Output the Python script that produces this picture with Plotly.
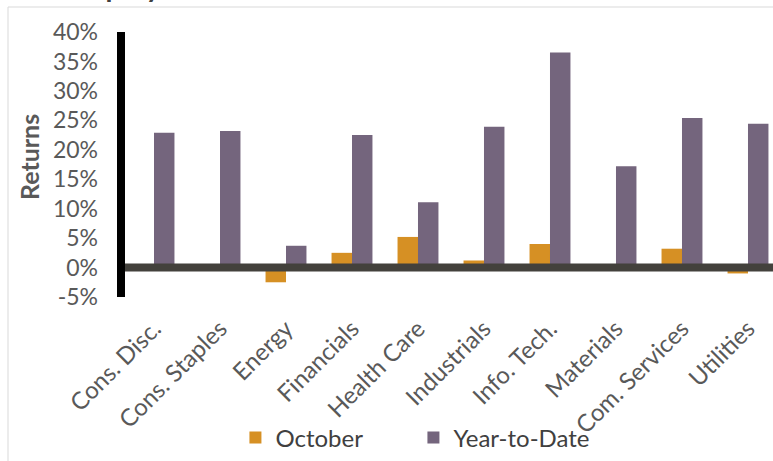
import plotly.graph_objects as go

categories = ["Cons. Disc.", "Cons. Staples", "Energy", "Financials", "Health Care",
              "Industrials", "Info. Tech.", "Materials", "Com. Services", "Utilities"]
october = [0.0, 0.0, -2.5, 2.5, 5.2, 1.2, 4.0, 0.0, 3.2, -1.0]
ytd = [22.9, 23.2, 3.7, 22.5, 11.1, 23.9, 36.5, 17.2, 25.4, 24.4]
tick_vals = [-5, 0, 5, 10, 15, 20, 25, 30, 35, 40]
tick_text = [f"{v}%" for v in tick_vals]

ORANGE = "#D69024"
PURPLE = "#74657D"
FONT = "Lato"

fig = go.Figure()
fig.add_trace(go.Bar(x=categories, y=october, name="October",
                     marker=dict(color=ORANGE, line=dict(width=0))))
fig.add_trace(go.Bar(x=categories, y=ytd, name="Year-to-Date",
                     marker=dict(color=PURPLE, line=dict(width=0))))

fig.update_layout(
    width=773, height=461,
    margin=dict(l=121, r=0, t=32, b=164),
    paper_bgcolor="white", plot_bgcolor="white",
    barmode="group", bargap=0.38, bargroupgap=0,
    font=dict(family=FONT, color="#595959"),
    showlegend=True,
    legend=dict(orientation="h", x=0.1755, y=-0.532, xanchor="left", yanchor="middle",
                font=dict(size=24, color="#404040"), entrywidth=133,
                entrywidthmode="pixels", bgcolor="rgba(0,0,0,0)"),
    xaxis=dict(range=[-0.5, 9.379], tickangle=-45, showgrid=False, showline=False,
               zeroline=False, ticks="", tickfont=dict(size=24, color="#595959"),
               ticklabelstandoff=12),
    yaxis=dict(range=[-5, 40], tickvals=tick_vals, ticktext=tick_text,
               showgrid=False, zeroline=False, showline=False, ticks="",
               tickfont=dict(size=23, color="#595959"), ticklabelstandoff=22),
    shapes=[
        dict(type="line", xref="paper", yref="y", x0=0, x1=1, y0=0, y1=0,
             line=dict(color="#43413C", width=8), layer="above"),
        dict(type="line", xref="paper", yref="y", x0=0, x1=0, y0=-5, y1=40,
             line=dict(color="black", width=8), layer="above"),
        dict(type="line", xref="paper", yref="paper", x0=-0.1733, x1=-0.1733,
             y0=1.0943, y1=-1.0, line=dict(color="#D9D9D9", width=1)),
        dict(type="line", xref="paper", yref="paper", x0=-0.1733, x1=1.0,
             y0=1.0943, y1=1.0943, line=dict(color="#D9D9D9", width=1)),
    ],
    annotations=[
        dict(text="<b>Equity</b>", xref="paper", yref="paper", x=0.0, y=1.102,
             xanchor="center", yanchor="bottom", showarrow=False,
             font=dict(size=28, color="#404040", family=FONT)),
        dict(text="<b>Returns</b>", xref="paper", yref="paper", x=-0.1411, y=0.528,
             xanchor="center", yanchor="middle", textangle=-90, showarrow=False,
             font=dict(size=25, color="#595959", family=FONT)),
    ],
)

fig.write_html("out.html", config={"displayModeBar": False},
               post_script="document.body.style.margin='0';")
